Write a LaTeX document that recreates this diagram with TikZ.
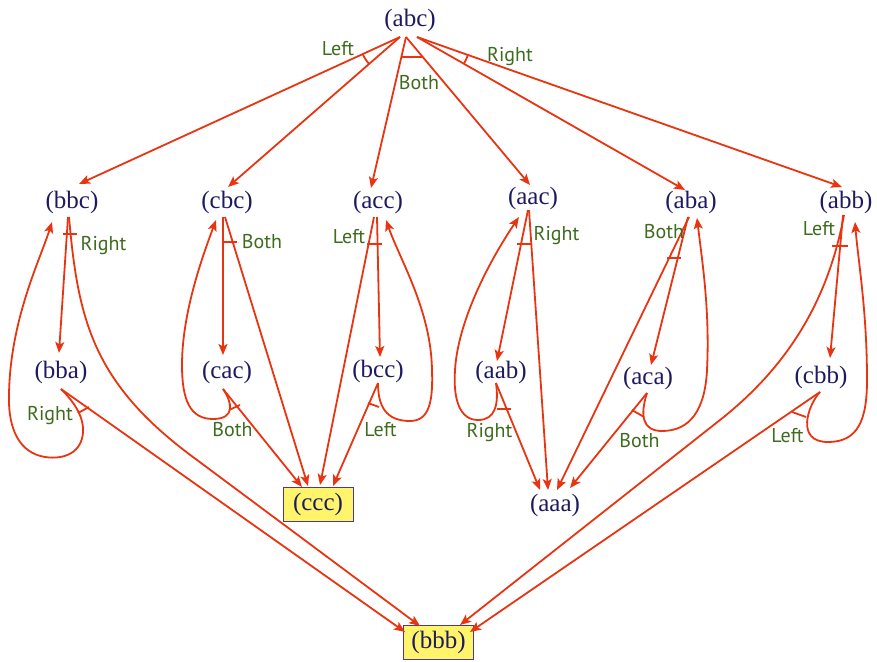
\documentclass[tikz,border=0pt]{standalone}
\usepackage{fontspec}
\setmainfont{Liberation Serif}
\newfontfamily\lblfont{PT Sans}
\usetikzlibrary{arrows.meta,calc}
\definecolor{edgered}{RGB}{232,52,16}
\definecolor{lblgreen}{RGB}{62,107,30}
\definecolor{navy}{RGB}{30,26,96}
\definecolor{boxfill}{RGB}{255,244,106}
\definecolor{boxline}{RGB}{74,58,140}
\begin{document}
\begin{tikzpicture}[x=1pt,y=-1pt,
  st/.style={text=navy, font=\fontsize{25}{25}\selectfont, text height=17pt, text depth=4.5pt, inner sep=0pt},
  goal/.style={st, draw=boxline, line width=1pt, fill=boxfill, minimum width=70pt, minimum height=34pt},
  lbl/.style={text=lblgreen, font=\lblfont\fontsize{20}{20}\selectfont, text height=14pt, text depth=0pt, inner sep=0pt},
  arr/.style={draw=edgered, line width=1.8pt, -{Stealth[length=11pt,width=9pt,inset=2.5pt]}},
  mk/.style={draw=edgered, line width=1.8pt},
]
\useasboundingbox (0,0) rectangle (877,661);

% states
\node[st] (abc) at (410,20) {(abc)};
\node[st] (bbc) at (72,202) {(bbc)};
\node[st] (cbc) at (227,202) {(cbc)};
\node[st] (acc) at (378,202) {(acc)};
\node[st] (aac) at (533,198) {(aac)};
\node[st] (aba) at (691,202) {(aba)};
\node[st] (abb) at (846,202) {(abb)};
\node[st] (bba) at (61,372) {(bba)};
\node[st] (cac) at (227,372) {(cac)};
\node[st] (bcc) at (378,371) {(bcc)};
\node[st] (aab) at (501,372) {(aab)};
\node[st] (aca) at (648,378) {(aca)};
\node[st] (cbb) at (821,377) {(cbb)};
\node[st] (aaa) at (555,505) {(aaa)};
\node[goal] (ccc) at (318,504.5) {(ccc)};
\node[goal] (bbb) at (438.5,642.5) {(bbb)};

% helper coordinates at abc
\coordinate (abcL) at ($(abc)+(-10,17)$);
\coordinate (abcB) at ($(abc)+(-4,17)$);
\coordinate (abcR) at ($(abc)+(7,17)$);
\coordinate (bbcT) at ($(bbc)+(7,-18)$);
\coordinate (cbcT) at ($(cbc)+(1,-15)$);
\coordinate (accT) at ($(acc)+(-7,-14)$);
\coordinate (aacT) at ($(aac)+(-3,-13)$);
\coordinate (abaT) at ($(aba)+(-6,-12)$);
\coordinate (abbT) at ($(abb)+(-4,-15)$);

% abc edges
\draw[arr] (abcL) -- (bbcT);
\draw[arr] (abcL) -- (cbcT);
\draw[arr] (abcB) -- (accT);
\draw[arr] (abcB) -- (aacT);
\draw[arr] (abcR) -- (abaT);
\draw[arr] (abcR) -- (abbT);
\draw[mk] ($(abcL)!41pt!(bbcT)$) to[bend right=8] ($(abcL)!41pt!(cbcT)$);
\draw[mk] ($(abcB)!0.133!(accT)$) -- ($(abcB)!0.135!(aacT)$);
\draw[mk] ($(abcR)!54pt!(abbT)$) to[bend left=5] ($(abcR)!54pt!(abaT)$);
\node[lbl] (lab1) at (338,48.5) {Left};
\node[lbl] (lab2) at (419,82) {Both};
\node[lbl] (lab3) at (510,54.5) {Right};

% bbc
\draw[arr] ($(bbc)+(-4,15)$) -- ($(bba)+(-2,-19)$);
\draw[arr] ($(bbc)+(-3,15)$) .. controls (78,320) and (93,383) .. (193,457) -- ($(bbb)+(-18.5,-16.5)$);
\draw[mk] ($(bbc)+(-9,32)$) -- ($(bbc)+(5,32)$);
\node[lbl] (lab4) at (103.5,243.5) {Right};

% bba
\draw[arr] ($(bba)+(0,17)$) -- ($(bbb)+(-33.5,-10.5)$);
\draw[arr] ($(bba)+(0,17)$) .. controls (72,400) and (84,415) .. (83,432)
  .. controls (82,452) and (65,460) .. (45,457)
  .. controls (20,453) and (8,430) .. (9,395)
  .. controls (10,320) and (40,260) .. ($(bbc)+(-20,20)$);
\draw[mk] ($(bba)+(17,41)$) -- ($(bba)+(28,35)$);
\node[lbl] (lab5) at (50,413.5) {Right};

% cbc
\draw[arr] ($(cbc)+(-4,15)$) -- ($(cac)+(-4,-17)$);
\draw[arr] ($(cbc)+(-2,15)$) -- ($(ccc)+(-10,-18.5)$);
\draw[mk] ($(cbc)+(-4,40)$) -- ($(cbc)+(10,40)$);
\node[lbl] (lab6) at (262,241.5) {Both};

% cac
\draw[arr] ($(cac)+(-4,17)$) -- ($(ccc)+(-16,-17.5)$);
\draw[arr] ($(cac)+(-4,17)$) .. controls (232,402) and (236,419) .. (213,419)
  .. controls (190,419) and (182,400) .. (182,365)
  .. controls (182,310) and (205,250) .. ($(cbc)+(-11,18)$);
\draw[mk] ($(cac)+(2,38)$) -- ($(cac)+(13,33)$);
\node[lbl] (lab7) at (232.5,429) {Both};

% acc
\draw[arr] ($(acc)+(-1,15)$) -- ($(bcc)+(2,-14)$);
\draw[arr] ($(acc)+(-4,15)$) -- ($(ccc)+(2,-19.5)$);
\draw[mk] ($(acc)+(-11,42)$) -- ($(acc)+(4,42)$);
\node[lbl] (lab8) at (349,236.5) {Left};

% bcc
\draw[arr] ($(bcc)+(0,12)$) -- ($(ccc)+(15,-18.5)$);
\draw[arr] ($(bcc)+(0,12)$) .. controls (378,405) and (385,421) .. (410,421)
  .. controls (430,421) and (433,400) .. (432,370)
  .. controls (431,310) and (400,260) .. ($(acc)+(8,18)$);
\draw[mk] ($(bcc)+(-10,32)$) -- ($(bcc)+(1,36)$);
\node[lbl] (lab9) at (380.5,429) {Left};

% aac
\draw[arr] ($(aac)+(-5,12)$) -- ($(aab)+(-4,-11)$);
\draw[arr] ($(aac)+(-4,12)$) -- ($(aaa)+(-7,-15)$);
\draw[mk] ($(aac)+(-16,46)$) -- ($(aac)+(-1,46)$);
\node[lbl] (lab10) at (556.5,233.5) {Right};

% aab
\draw[arr] ($(aab)+(-5,11)$) -- ($(aaa)+(-15,-15)$);
\draw[arr] ($(aab)+(-5,11)$) .. controls (499,405) and (495,420) .. (478,420)
  .. controls (460,420) and (453,400) .. (455,370)
  .. controls (458,320) and (490,260) .. ($(aac)+(-14,19)$);
\draw[mk] ($(aab)+(-4,37)$) -- ($(aab)+(10,37)$);
\node[lbl] (lab11) at (489.5,430) {Right};

% aba
\draw[arr] ($(aba)+(-3,15)$) -- ($(aca)+(3,-13)$);
\draw[arr] ($(aba)+(-2,15)$) -- ($(aaa)+(2,-15)$);
\draw[mk] ($(aba)+(-24,56)$) -- ($(aba)+(-10,56)$);
\node[lbl] (lab12) at (664,231.5) {Both};

% aca
\draw[arr] ($(aca)+(-1,15)$) -- ($(aaa)+(15,-17)$);
\draw[arr] ($(aca)+(-1,15)$) .. controls (640,415) and (642,431) .. (662,431)
  .. controls (690,431) and (705,410) .. (707,370)
  .. controls (710,310) and (702,260) .. ($(aba)+(6,16)$);
\draw[mk] ($(aca)+(-16,32)$) -- ($(aca)+(-4,39)$);
\node[lbl] (lab13) at (639.5,440) {Both};

% abb
\draw[arr] ($(abb)+(-3,13)$) -- ($(cbb)+(9,-19)$);
\draw[arr] ($(abb)+(-2,13)$) .. controls (830,290) and (796,360) .. (720,420) -- ($(bbb)+(21.5,-17.5)$);
\draw[mk] ($(abb)+(-14,44)$) -- ($(abb)+(2,44)$);
\node[lbl] (lab14) at (819,228) {Left};

% cbb
\draw[arr] ($(cbb)+(-1,15)$) -- ($(bbb)+(31.5,-10.5)$);
\draw[arr] ($(cbb)+(-1,15)$) .. controls (808,405) and (795,442) .. (828,442)
  .. controls (858,442) and (867,420) .. (867,380)
  .. controls (867,310) and (858,260) .. ($(abb)+(9,20)$);
\draw[mk] ($(cbb)+(-29,35)$) -- ($(cbb)+(-15,40)$);
\node[lbl] (lab15) at (787.5,435) {Left};
\end{tikzpicture}
\end{document}
